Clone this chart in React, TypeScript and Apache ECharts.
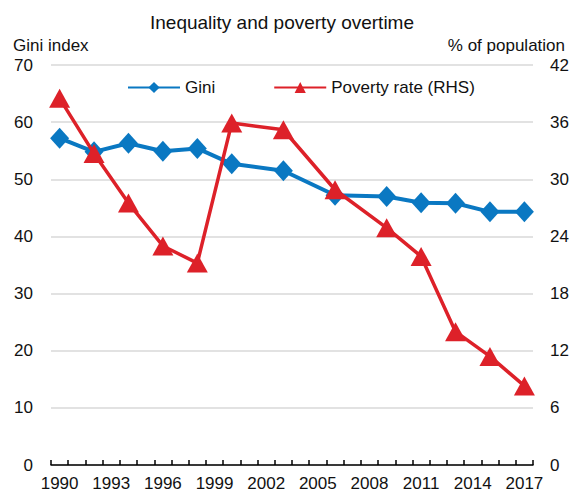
import React, { useEffect, useRef } from "react";
import * as echarts from "echarts";

// Yearly category axis (one band per year)
const years = [
  "1990", "1991", "1992", "1993", "1994", "1995", "1996", "1997", "1998", "1999",
  "2000", "2001", "2002", "2003", "2004", "2005", "2006", "2007", "2008", "2009",
  "2010", "2011", "2012", "2013", "2014", "2015", "2016", "2017",
];

// Survey years with observations
const obsYears = ["1990", "1992", "1994", "1996", "1998", "2000", "2003", "2006", "2009", "2011", "2013", "2015", "2017"];

// Gini index (left axis)
const gini = [57.2, 54.8, 56.3, 54.9, 55.4, 52.7, 51.5, 47.2, 47.0, 45.9, 45.8, 44.3, 44.3];

// Poverty rate, % of population (right axis)
const poverty = [38.5, 32.7, 27.5, 23.0, 21.2, 35.9, 35.2, 28.9, 24.9, 21.9, 14.0, 11.4, 8.3];

const FONT = "'Liberation Sans', Arial, sans-serif";
const FS = 17;
const BLUE = "#0a78c2";
const RED = "#dd2129";

export default function App() {
  const ref = useRef<HTMLDivElement>(null);

  useEffect(() => {
    document.body.style.margin = "0";
    if (!ref.current) return;
    const chart = echarts.init(ref.current, undefined, { renderer: "svg" });

    const giniData = obsYears.map((y, i) => [y, gini[i]]);
    const povData = obsYears.map((y, i) => [y, poverty[i]]);

    chart.setOption({
      animation: false,
      backgroundColor: "#ffffff",
      textStyle: { fontFamily: FONT, color: "#111" },
      title: {
        text: "Inequality and poverty overtime",
        left: 277,
        top: 8,
        textAlign: "center",
        textStyle: { fontFamily: FONT, fontSize: 19, fontWeight: "normal", color: "#111" },
      },
      graphic: [
        {
          type: "text",
          left: 13,
          top: 37,
          style: { text: "Gini index", font: `${FS}px ${FONT}`, fill: "#111" },
        },
        {
          type: "text",
          right: 8,
          top: 37,
          style: { text: "% of population", font: `${FS}px ${FONT}`, fill: "#111" },
        },
      ],
      legend: {
        left: 122,
        top: 74,
        itemWidth: 52,
        itemHeight: 14,
        itemGap: 58,
        textStyle: { fontFamily: FONT, fontSize: FS, color: "#111" },
        data: ["Gini", "Poverty rate (RHS)"],
      },
      grid: { left: 51, right: 40, top: 65, bottom: 30, containLabel: false },
      xAxis: {
        type: "category",
        data: years,
        boundaryGap: true,
        axisLine: { show: true, lineStyle: { color: "#000", width: 1.5 } },
        axisTick: { show: true, inside: true, length: 5, interval: 0, lineStyle: { color: "#000", width: 1.5 } },
        axisLabel: { interval: 2, margin: 10, fontFamily: FONT, fontSize: FS, color: "#111" },
        splitLine: { show: false },
      },
      yAxis: [
        {
          type: "value",
          min: 0,
          max: 70,
          interval: 10,
          position: "left",
          axisLine: { show: false },
          axisTick: { show: false },
          axisLabel: { margin: 18, fontFamily: FONT, fontSize: FS, color: "#111" },
          splitLine: { show: true, lineStyle: { color: "#d9d9d9", width: 1.5 } },
        },
        {
          type: "value",
          min: 0,
          max: 42,
          interval: 6,
          position: "right",
          axisLine: { show: false },
          axisTick: { show: false },
          axisLabel: { margin: 17, fontFamily: FONT, fontSize: FS, color: "#111" },
          splitLine: { show: false },
        },
      ],
      series: [
        {
          name: "Gini",
          type: "line",
          yAxisIndex: 0,
          data: giniData,
          showAllSymbol: true,
          symbol: "diamond",
          symbolSize: [19, 21],
          itemStyle: { color: BLUE },
          lineStyle: { color: BLUE, width: 4 },
          z: 2,
        },
        {
          name: "Poverty rate (RHS)",
          type: "line",
          yAxisIndex: 1,
          data: povData,
          showAllSymbol: true,
          symbol: "triangle",
          symbolSize: [21, 19],
          itemStyle: { color: RED },
          lineStyle: { color: RED, width: 3.5 },
          z: 3,
        },
      ],
    });

    return () => chart.dispose();
  }, []);

  return <div ref={ref} style={{ width: 573, height: 495 }} />;
}
